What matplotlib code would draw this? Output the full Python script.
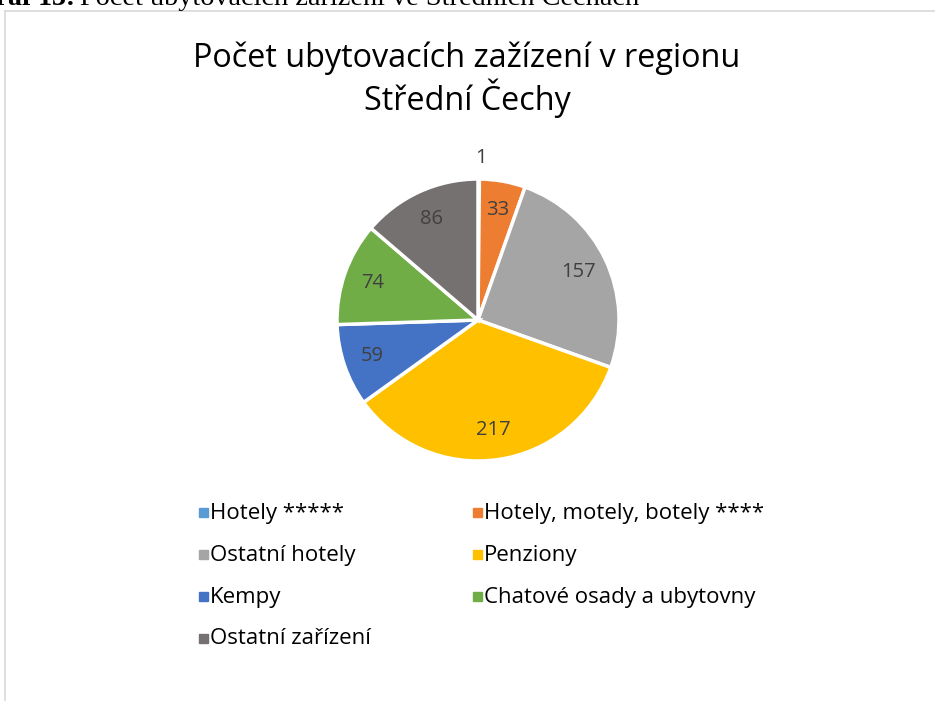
import matplotlib.pyplot as plt
from matplotlib.patches import Rectangle
from matplotlib.lines import Line2D

categories = ["Hotely *****", "Hotely, motely, botely ****", "Ostatní hotely",
              "Penziony", "Kempy", "Chatové osady a ubytovny", "Ostatní zařízení"]
values = [1, 33, 157, 217, 59, 74, 86]
colors = ["#5B9BD5", "#ED7D31", "#A5A5A5", "#FFC000", "#4472C4", "#70AD47", "#767171"]

W, H = 935, 701
fig = plt.figure(figsize=(W / 100, H / 100), dpi=100)
fig.patch.set_facecolor("white")

# chart frame (cut off at right/bottom)
fig.add_artist(Line2D([5 / W, 5 / W], [0, 1 - 11 / H], color="#D9D9D9", lw=1.2))
fig.add_artist(Line2D([5 / W, 1], [1 - 11 / H, 1 - 11 / H], color="#D9D9D9", lw=1.2))

# caption above the chart, mostly cut off by the page edge
fig.text(75 / W, 1 - 5 / H, "Graf 13:", family="Liberation Serif", fontweight="bold",
         fontsize=20, va="baseline", ha="right")
fig.text(80 / W, 1 - 5 / H, "Počet ubytovacích zařízení ve Středních Čechách",
         family="Liberation Serif", fontsize=20.3, va="baseline", ha="left")

fig.text(467 / W, 1 - 67 / H, "Počet ubytovacích zažízení v regionu",
         family="Open Sans", fontsize=23.3, color="#000000", ha="center", va="baseline")
fig.text(467 / W, 1 - 110 / H, "Střední Čechy",
         family="Open Sans", fontsize=23.3, color="#000000", ha="center", va="baseline")

cx, cy, r = 478, 320, 141
ax = fig.add_axes([(cx - r) / W, 1 - (cy + r) / H, 2 * r / W, 2 * r / H])
wedges, texts = ax.pie(values, colors=colors, startangle=90, counterclock=False,
                       radius=1, labels=[str(v) for v in values], labeldistance=0.79,
                       wedgeprops=dict(edgecolor="white", linewidth=2.5),
                       textprops=dict(fontsize=14.5, color="#404040", family="Open Sans",
                                      ha="center", va="center"))
texts[0].set_position((0.02, 1.15))
ax.set_xlim(-1, 1)
ax.set_ylim(-1, 1)
ax.set_aspect("equal")
ax.axis("off")

# legend, filled row by row
col_x = [199, 473]
row_y = [513, 555, 597, 639]
for i, (name, c) in enumerate(zip(categories, colors)):
    x = col_x[i % 2]
    y = row_y[i // 2]
    fig.add_artist(Rectangle((x / W, 1 - (y + 4) / H), 9 / W, 9 / H,
                             color=c, transform=fig.transFigure))
    fig.text((x + 11) / W, 1 - y / H, name, family="Open Sans", fontsize=16,
             color="#000000", ha="left", va="center")

fig.savefig("out.png", dpi=100)
